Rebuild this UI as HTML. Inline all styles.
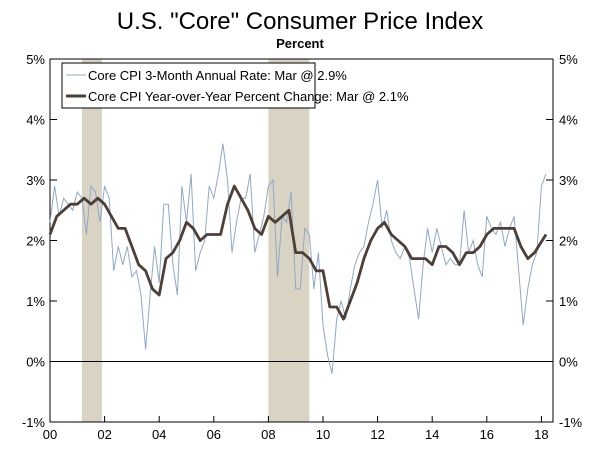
<!DOCTYPE html>
<html><head><meta charset="utf-8"><style>
body{margin:0;background:#fff;font-family:"Liberation Sans",sans-serif}
</style></head><body>
<svg width="600" height="460" xmlns="http://www.w3.org/2000/svg" id="chart">
<text x="300" y="29" text-anchor="middle" font-size="24" fill="#000">U.S. "Core" Consumer Price Index</text>
<text x="300" y="48" text-anchor="middle" font-size="13" font-weight="bold" fill="#000">Percent</text>
<g id="plot"></g>
</svg>
<script>
const yoyTimes=[];for(let i=0;i<=72;i++)yoyTimes.push(2000+i*0.25);yoyTimes[72]=2018.17;
const yoyValues=[2.1,2.4,2.5,2.6,2.6,2.7,2.6,2.7,2.6,2.4,2.2,2.2,1.9,1.6,1.5,1.2,1.1,1.7,1.8,2.0,2.3,2.2,2.0,2.1,2.1,2.1,2.6,2.9,2.7,2.5,2.2,2.1,2.4,2.3,2.4,2.5,1.8,1.8,1.7,1.5,1.5,0.9,0.9,0.7,1.0,1.3,1.7,2.0,2.2,2.3,2.1,2.0,1.9,1.7,1.7,1.7,1.6,1.9,1.9,1.8,1.6,1.8,1.8,1.9,2.1,2.2,2.2,2.2,2.2,1.9,1.7,1.8,2.1];
const threeMonthValues=[2.3,2.9,2.4,2.7,2.6,2.5, 2.8,2.7,2.1,2.9,2.8,2.3, 2.9,2.7,1.5,1.9,1.6,1.9, 1.4,1.5,1.1,0.2,1.1,1.9, 1.3,2.6,2.6,1.6,1.1,2.9, 2.3,3.1,1.5,1.8,2.0,2.9, 2.7,3.1,3.6,3.0,1.8,2.3, 2.7,2.7,3.1,1.8,2.1,2.4, 2.9,3.0,1.4,2.4,2.3,2.8, 1.2,1.2,2.2,2.1,1.2,1.8, 0.6,0.1,-0.2,0.7,1.0,0.7, 1.2,1.6,1.8,1.9,2.3,2.6, 3.0,2.2,2.5,2.0,1.8,1.7, 1.9,1.7,1.2,0.7,1.6,2.2, 1.8,2.2,1.9,1.6,1.7,1.6, 1.6,2.5,1.8,2.0,1.6,1.4, 2.4,2.2,2.1,2.3,1.9,2.2, 2.4,1.5,0.6,1.2,1.6,1.8, 2.9,3.1];
const threeMonthTimes=threeMonthValues.map((v,i)=>2000+i/6);
const recessions=[[2001.17,2001.9],[2008.0,2009.5]];
const yTicks=[5,4,3,2,1,0,-1];
const yTickLabels=["5%","4%","3%","2%","1%","0%","-1%"];
const xTicks=[2000,2002,2004,2006,2008,2010,2012,2014,2016,2018];
const xTickLabels=["00","02","04","06","08","10","12","14","16","18"];
const L=50,R=553,T=59,B=422;
const xs=t=>50+(t-2000)*27.3;
const ys=v=>T+(5-v)*(B-T)/6;
const NS="http://www.w3.org/2000/svg";
const g=document.getElementById('plot');
function mk(tag,a){const e=document.createElementNS(NS,tag);for(const k in a)e.setAttribute(k,a[k]);g.appendChild(e);return e;}
recessions.forEach(r=>{const e=mk('rect',{x:xs(r[0]),y:T,width:xs(r[1])-xs(r[0]),height:B-T,fill:'#d9d3c4'});

});
let e=mk('line',{x1:L,x2:R,y1:ys(0),y2:ys(0),stroke:'#000','stroke-width':1});


e=mk('rect',{x:L,y:T,width:R-L,height:B-T,fill:'none',stroke:'#000','stroke-width':1});


yTicks.forEach((v,i)=>{const y=ys(v);
mk('line',{x1:L,x2:L+7,y1:y,y2:y,stroke:'#000'});mk('line',{x1:R-7,x2:R,y1:y,y2:y,stroke:'#000'});
let t=mk('text',{x:L-5,y:y+5,'text-anchor':'end','font-size':13});t.textContent=yTickLabels[i];


t=mk('text',{x:R+6,y:y+5,'font-size':13});t.textContent=yTickLabels[i];

});
xTicks.forEach((v,i)=>{const x=xs(v);mk('line',{x1:x,x2:x,y1:B,y2:B-6,stroke:'#000'});
const t=mk('text',{x:x,y:B+17,'text-anchor':'middle','font-size':13});t.textContent=xTickLabels[i];

});
function path(ts,vs){return vs.map((v,i)=>(i?'L':'M')+xs(ts[i]).toFixed(1)+','+ys(v).toFixed(1)).join('');}
e=mk('path',{d:path(threeMonthTimes,threeMonthValues),fill:'none',stroke:'#8fa8c8','stroke-width':1});


e=mk('path',{d:path(yoyTimes,yoyValues),fill:'none',stroke:'#4d3f36','stroke-width':2.8,'stroke-linejoin':'round'});


e=mk('rect',{x:62,y:63,width:253,height:45,fill:'#fff',stroke:'#000'});


mk('line',{x1:66,x2:86,y1:75,y2:75,stroke:'#8fa8c8','stroke-width':1});
mk('line',{x1:66,x2:86,y1:96,y2:96,stroke:'#4d3f36','stroke-width':3});
let t=mk('text',{x:88,y:80,'font-size':13});t.textContent='Core CPI 3-Month Annual Rate: Mar @ 2.9%';


t=mk('text',{x:88,y:101,'font-size':13});t.textContent='Core CPI Year-over-Year Percent Change: Mar @ 2.1%';


</script>
</body></html>
